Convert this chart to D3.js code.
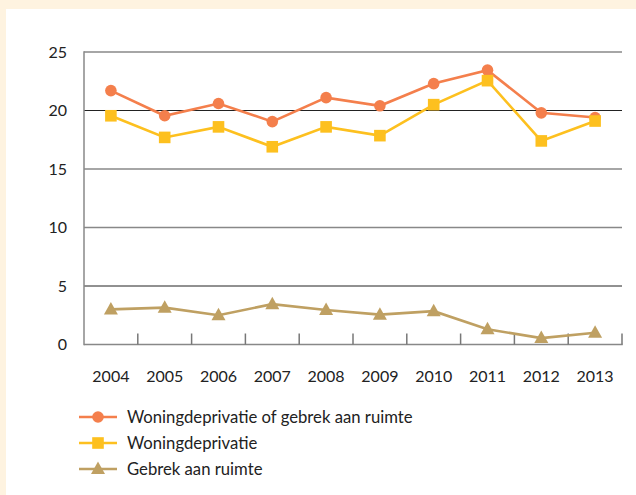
<!DOCTYPE html>
<html><head><meta charset="utf-8">
<script src="https://cdn.jsdelivr.net/npm/d3@7"></script>
<style>
html,body{margin:0;padding:0;background:#fff;}
svg{display:block;}
text{font-family:Lato,"Open Sans",sans-serif;fill:#222;}
</style></head>
<body>
<svg id="chart" width="636" height="495"></svg>
<script>
const years = ["2004","2005","2006","2007","2008","2009","2010","2011","2012","2013"];
const seriesNames = ["Woningdeprivatie of gebrek aan ruimte","Woningdeprivatie","Gebrek aan ruimte"];
const woningOfGebrek = [21.7,19.55,20.6,19.05,21.1,20.4,22.3,23.45,19.8,19.4];
const woningdeprivatie = [19.55,17.7,18.6,16.9,18.6,17.85,20.5,22.55,17.4,19.1];
const gebrekAanRuimte = [3.0,3.15,2.5,3.45,2.95,2.55,2.85,1.3,0.55,1.0];
const yTicks = [0,5,10,15,20,25];

(function(){
const colors = ["#f47f4c","#fdc01f","#bfa062"];
const markers = ["circle","square","triangle"];
const data = [woningOfGebrek, woningdeprivatie, gebrekAanRuimte];

const svg = d3.select("#chart");
svg.append("rect").attr("x",0).attr("y",0).attr("width",636).attr("height",495).attr("fill","#fef3e0");
svg.append("rect").attr("x",6).attr("y",9).attr("width",630).attr("height",486).attr("fill","#ffffff");

const pL=84, pR=622, pT=52, pB=344.5;
const x = d3.scaleBand().domain(years).range([pL,pR]);
const y = d3.scaleLinear().domain([0,25]).range([pB,pT]);

const gridStyle = {0:["#888",1.5],5:["#222",1],10:["#888",1.5],15:["#888",1.5],20:["#222",1],25:["#888",1.5]};
yTicks.filter(t=>t>0).forEach(t=>{
  svg.append("line").attr("x1",pL).attr("x2",pR).attr("y1",y(t)).attr("y2",y(t))
    .attr("stroke",gridStyle[t][0]).attr("stroke-width",gridStyle[t][1]);
});
svg.append("line").attr("x1",pL).attr("x2",pL).attr("y1",pT-0.75).attr("y2",pB+0.75).attr("stroke","#888").attr("stroke-width",1.5);
svg.append("line").attr("x1",pL).attr("x2",pR+0.75).attr("y1",pB).attr("y2",pB).attr("stroke","#888").attr("stroke-width",1.5);
const tickPos = years.map(yr=>x(yr)).slice(1).concat([pR]);
tickPos.forEach(p=>{
  svg.append("line").attr("x1",p).attr("x2",p).attr("y1",pB).attr("y2",pB-11).attr("stroke","#777").attr("stroke-width",1.5);
});
yTicks.forEach(t=>{
  svg.append("text").attr("x",67).attr("y",y(t)).attr("dy","0.36em").attr("text-anchor","end")
    .attr("font-size",16).text(t);
});
years.forEach(yr=>{
  svg.append("text").attr("x",x(yr)+x.bandwidth()/2).attr("y",382).attr("text-anchor","middle")
    .attr("font-size",16).text(yr);
});

function drawMarker(g, type, cx, cy, color){
  if(type==="circle") g.append("circle").attr("cx",cx).attr("cy",cy).attr("r",5.8).attr("fill",color);
  else if(type==="square") g.append("rect").attr("x",cx-5.8).attr("y",cy-5.8).attr("width",11.6).attr("height",11.6).attr("fill",color);
  else g.append("path").attr("d",`M${cx},${cy-7.5}L${cx+7},${cy+5}L${cx-7},${cy+5}Z`).attr("fill",color);
}

const line = d3.line().x((d,i)=>x(years[i])+x.bandwidth()/2).y(d=>y(d));
data.forEach((vals,si)=>{
  const g = svg.append("g");
  g.append("path").attr("d",line(vals)).attr("fill","none").attr("stroke",colors[si]).attr("stroke-width",2.6);
  vals.forEach((v,i)=>drawMarker(g, markers[si], x(years[i])+x.bandwidth()/2, y(v), colors[si]));
});

const legY = [417,443,469];
seriesNames.forEach((n,i)=>{
  const g = svg.append("g");
  g.append("line").attr("x1",79).attr("x2",117).attr("y1",legY[i]).attr("y2",legY[i]).attr("stroke",colors[i]).attr("stroke-width",2.6);
  drawMarker(g, markers[i], 98, legY[i], colors[i]);
  g.append("text").attr("x",127).attr("y",legY[i]).attr("dy","0.36em").attr("font-size",16.7).text(n);
});
})();
</script>
</body></html>
